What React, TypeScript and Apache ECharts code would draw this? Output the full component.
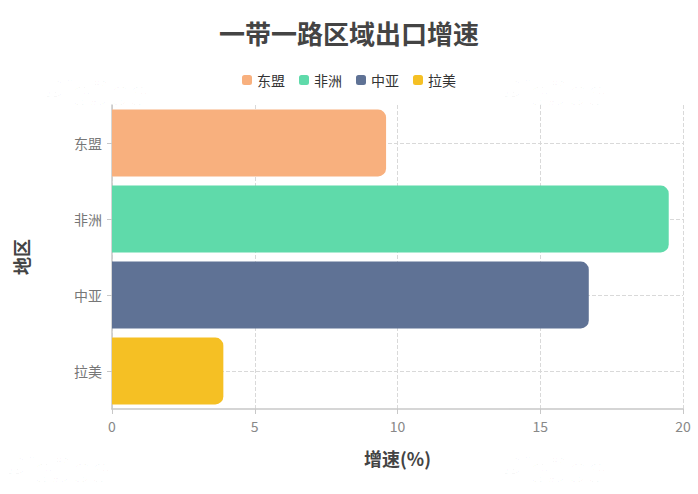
import React, { useEffect, useRef } from "react";
import * as echarts from "echarts";

const categories = ["东盟", "非洲", "中亚", "拉美"];
const growthValues = [9.6, 19.5, 16.7, 3.9];
const seriesColors = ["#F8B07E", "#5FDAAA", "#5F7295", "#F5C024"];
const xTicks = { min: 0, max: 20, interval: 5 };

const FONT = "'Noto Sans CJK SC', 'Noto Sans', sans-serif";

export default function App() {
  const ref = useRef<HTMLDivElement>(null);
  useEffect(() => {
    document.body.style.margin = "0";
    if (!ref.current) return;
    const chart = echarts.init(ref.current, null, { renderer: "svg" });
    const barSeries = categories.map((name, i) => ({
      name,
      type: "bar",
      stack: "total",
      barCategoryGap: "12%",
      z: 3,
      data: categories.map((_, j) => (j === i ? growthValues[i] : "-")),
      itemStyle: { color: seriesColors[i], borderRadius: [0, 8, 8, 0] },
    }));
    const gridLineSeries = {
      name: "gridlines",
      type: "line",
      z: 1,
      silent: true,
      data: categories.map(() => "-"),
      markLine: {
        z: 1,
        silent: true,
        symbol: "none",
        label: { show: false },
        lineStyle: { type: "dashed", color: "#d9d9d9", width: 1 },
        data: categories.map((c) => ({ yAxis: c })),
      },
    };
    const wm = (x: number, y: number) => ({
      type: "text",
      x,
      y,
      silent: true,
      z: 0,
      style: {
        text: "PicDoc",
        font: `italic bold 34px Roboto, sans-serif`,
        fill: "rgba(0,0,0,0.015)",
        stroke: "rgba(0,0,0,0.03)",
        lineWidth: 1,
      },
    });
    chart.setOption({
      animation: false,
      textStyle: { fontFamily: FONT },
      title: {
        text: "一带一路区域出口增速",
        left: "center",
        top: 14,
        textStyle: { fontSize: 26, fontWeight: "bold", color: "#444", fontFamily: FONT },
      },
      legend: {
        top: 68,
        left: "center",
        icon: "roundRect",
        itemWidth: 10,
        itemHeight: 10,
        itemGap: 14,
        textStyle: { fontSize: 14, color: "#333", fontFamily: FONT },
        data: categories,
      },
      graphic: [wm(42, 76), wm(500, 76), wm(280, 270), wm(4, 453), wm(500, 453)],
      grid: { left: 112, right: 15, top: 105, bottom: 85, containLabel: false },
      xAxis: {
        type: "value",
        min: xTicks.min,
        max: xTicks.max,
        interval: xTicks.interval,
        name: "增速(%)",
        nameLocation: "middle",
        nameGap: 40,
        nameTextStyle: { fontSize: 18, fontWeight: "bold", color: "#444", fontFamily: FONT },
        axisLine: { show: true, lineStyle: { color: "#c8c8c8", width: 1.5 } },
        axisTick: { show: true, length: 5, lineStyle: { color: "#c8c8c8" } },
        axisLabel: { fontSize: 14, color: "#888", margin: 10 },
        splitLine: { show: true, lineStyle: { type: "dashed", color: "#d9d9d9" } },
      },
      yAxis: {
        type: "category",
        data: categories,
        inverse: true,
        name: "地区",
        nameLocation: "middle",
        nameGap: 82,
        nameRotate: 90,
        nameTextStyle: { fontSize: 18, fontWeight: "bold", color: "#444", fontFamily: FONT },
        axisLine: { show: true, lineStyle: { color: "#c8c8c8", width: 1.5 } },
        axisTick: { show: true, alignWithLabel: true, length: 5, lineStyle: { color: "#c8c8c8" } },
        axisLabel: { fontSize: 14, color: "#777", margin: 10 },
        splitLine: { show: false },
      },
      series: [...barSeries, gridLineSeries],
    });
    return () => chart.dispose();
  }, []);
  return <div ref={ref} style={{ width: 698, height: 494 }} />;
}
